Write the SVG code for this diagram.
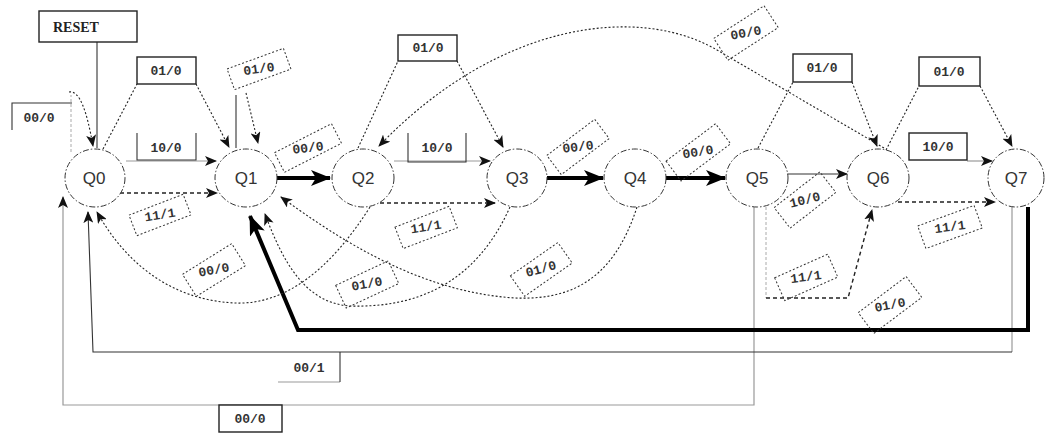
<svg xmlns="http://www.w3.org/2000/svg" width="1045" height="433" viewBox="0 0 1045 433">
  <defs>
    <marker id="arr" markerUnits="userSpaceOnUse" viewBox="0 0 12 10" markerWidth="12" markerHeight="10" refX="11" refY="5" orient="auto">
      <path d="M0,0 L12,5 L0,10 L3,5 z" fill="#111"/>
    </marker>
    <marker id="arrBig" markerUnits="userSpaceOnUse" viewBox="0 0 20 16" markerWidth="20" markerHeight="16" refX="19" refY="8" orient="auto">
      <path d="M0,0 L20,8 L0,16 L5,8 z" fill="#000"/>
    </marker>
  </defs>
  <style>
    .state ellipse { fill: #fff; stroke: #333; stroke-width: 1; stroke-dasharray: 6 2 1.5 2; }
    .state text { font-family: "Liberation Sans", Arial, sans-serif; font-size: 17px; fill: #333; text-anchor: middle; }
    .dot { fill: none; stroke: #222; stroke-width: 1.1; stroke-dasharray: 2 2; }
    .dash { fill: none; stroke: #222; stroke-width: 1.4; stroke-dasharray: 4 3; }
    .solid { fill: none; stroke: #333; stroke-width: 1.1; }
    .grey { fill: none; stroke: #999; stroke-width: 1.2; }
    .lightdot { fill: none; stroke: #aaa; stroke-width: 1; stroke-dasharray: 3 2; }
    .thick { fill: none; stroke: #000; stroke-width: 4; }
    .box { fill: #fff; stroke: #222; stroke-width: 1.4; }
    .rbox { fill: none; stroke: #333; stroke-width: 1; stroke-dasharray: 2 2; }
    .lbl { font-family: "Liberation Mono", "Courier New", monospace; font-size: 13px; font-weight: bold; fill: #333; text-anchor: middle; }
    .reset { font-family: "Liberation Serif", "Times New Roman", serif; font-size: 14px; font-weight: bold; fill: #222; }
  </style>

  <!-- transitions -->
  <g id="connectors">
    <!-- reset input -->
    <path class="solid" d="M97,42 L97,148"/>
    <!-- Q0 self loop -->
    <path class="lightdot" d="M71,152 L71,95"/>
    <path class="dot" d="M69,92 C80,90 87,112 93,146" marker-end="url(#arr)"/>
    <!-- Q0 -> Q1 -->
    <path class="dot" d="M103,149 L137,84"/>
    <path class="dot" d="M196,84 L229,147" marker-end="url(#arr)"/>
    <path class="grey" d="M126,161 L216,161" marker-end="url(#arr)"/>
    <path class="dash" d="M120,193 L217,193" marker-end="url(#arr)"/>
    <!-- Q1 self loop -->
    <path class="solid" d="M236,148 L236,95"/>
    <path class="dot" d="M246,93 L258,143" marker-end="url(#arr)"/>
    <!-- Q1 -> Q2 -->
    <path class="thick" d="M277,178 L330,178" marker-end="url(#arrBig)"/>
    <!-- Q2 -> Q3 -->
    <path class="dot" d="M358,148 L398,61"/>
    <path class="dot" d="M457,61 L503,147" marker-end="url(#arr)"/>
    <path class="grey" d="M394,161 L490,161" marker-end="url(#arr)"/>
    <path class="dash" d="M380,203 L495,203" marker-end="url(#arr)"/>
    <!-- Q3 -> Q4, Q4 -> Q5 -->
    <path class="thick" d="M547,178 L603,178" marker-end="url(#arrBig)"/>
    <path class="thick" d="M666,178 L725,178" marker-end="url(#arrBig)"/>
    <!-- Q5 -> Q6 -->
    <path class="solid" d="M787,174 L847,174" marker-end="url(#arr)"/>
    <path class="dot" d="M758,148 L793,82"/>
    <path class="dot" d="M852,82 L877,146" marker-end="url(#arr)"/>
    <path class="lightdot" d="M766,207 L766,298"/>
    <path class="dash" d="M766,298 L848,298 L872,210" marker-end="url(#arr)"/>
    <!-- Q6 -> Q7 -->
    <path class="dot" d="M886,150 L919,86"/>
    <path class="dot" d="M980,86 L1012,146" marker-end="url(#arr)"/>
    <path class="grey" d="M967,161 L992,161" marker-end="url(#arr)"/>
    <path class="dash" d="M898,202 L995,202" marker-end="url(#arr)"/>
    <!-- Q5 -> Q0 -->
    <path class="grey" d="M754,207 L754,405 L63,405 L63,197" marker-end="url(#arr)"/>
    <!-- Q7 -> Q0 -->
    <path class="grey" d="M1012,207 L1012,352"/>
    <path class="solid" d="M1012,352 L93,352 L88,212" marker-end="url(#arr)"/>
    <!-- Q7 -> Q1 -->
    <path class="thick" d="M1028,207 L1028,330 L298,330 L250,216" marker-end="url(#arrBig)"/>
    <!-- returns along the bottom -->
    <path class="dot" d="M370,207 C330,270 285,305 235,303 C170,300 125,262 97,212" marker-end="url(#arr)"/>
    <path class="dot" d="M510,207 C475,285 415,308 350,306 C305,303 283,262 265,214" marker-end="url(#arr)"/>
    <path class="dot" d="M637,207 C612,285 565,300 515,298 C420,292 340,240 281,197" marker-end="url(#arr)"/>
    <!-- Q6 -> Q2 arc -->
    <path class="dot" d="M884,148 L717,50 C640,5 500,20 379,146" marker-end="url(#arr)"/>
  </g>

  <!-- transition labels -->
  <g id="labels">
    <rect class="box" x="39" y="11" width="98" height="31"/>
    <text class="reset" x="53" y="32">RESET</text>

    <path class="solid" d="M12,130 L12,103 L72,103"/>
    <text class="lbl" x="39" y="122">00/0</text>

    <rect class="box" x="137" y="57" width="59" height="27"/>
    <text class="lbl" x="166" y="75">01/0</text>

    <path class="solid" d="M137,133 L137,160 L196,160 L196,133"/>
    <text class="lbl" x="166" y="152">10/0</text>

    <rect class="box" x="398" y="35" width="59" height="26"/>
    <text class="lbl" x="428" y="52">01/0</text>

    <path class="solid" d="M408,133 L408,162 L466,162 L466,133"/>
    <text class="lbl" x="437" y="152">10/0</text>

    <rect class="box" x="793" y="54" width="59" height="28"/>
    <text class="lbl" x="822" y="72">01/0</text>

    <rect class="box" x="919" y="57" width="61" height="29"/>
    <text class="lbl" x="949" y="76">01/0</text>

    <rect class="box" x="909" y="133" width="58" height="27"/>
    <text class="lbl" x="938" y="151">10/0</text>

    <path class="grey" d="M278,382 L340,382"/>
    <path class="solid" d="M340,352 L340,382"/>
    <text class="lbl" x="309" y="372">00/1</text>

    <rect class="box" x="219" y="405" width="63" height="27"/>
    <text class="lbl" x="250" y="423">00/0</text>

    <g transform="translate(160,215) rotate(-21)">
      <rect class="rbox" x="-29" y="-11" width="58" height="22"/>
      <text class="lbl" x="0" y="4" transform="rotate(12)">11/1</text>
    </g>
    <g transform="translate(259,69) rotate(-20)">
      <rect class="rbox" x="-30" y="-11" width="60" height="22"/>
      <text class="lbl" x="0" y="4" transform="rotate(12)">01/0</text>
    </g>
    <g transform="translate(308,148) rotate(-27)">
      <rect class="rbox" x="-32" y="-11" width="64" height="22"/>
      <text class="lbl" x="0" y="4" transform="rotate(20)">00/0</text>
    </g>
    <g transform="translate(426,227) rotate(-21)">
      <rect class="rbox" x="-29" y="-11" width="58" height="23"/>
      <text class="lbl" x="0" y="4" transform="rotate(12)">11/1</text>
    </g>
    <g transform="translate(578,147) rotate(-37)">
      <rect class="rbox" x="-30" y="-12" width="60" height="24"/>
      <text class="lbl" x="0" y="4" transform="rotate(30)">00/0</text>
    </g>
    <g transform="translate(698,152) rotate(-37)">
      <rect class="rbox" x="-31" y="-12" width="62" height="25"/>
      <text class="lbl" x="0" y="4" transform="rotate(28)">00/0</text>
    </g>
    <g transform="translate(805,200) rotate(-38)">
      <rect class="rbox" x="-29" y="-13" width="58" height="26"/>
      <text class="lbl" x="0" y="4" transform="rotate(24)">10/0</text>
    </g>
    <g transform="translate(950,227) rotate(-20)">
      <rect class="rbox" x="-30" y="-12" width="60" height="24"/>
      <text class="lbl" x="0" y="4" transform="rotate(12)">11/1</text>
    </g>
    <g transform="translate(806,277) rotate(-24)">
      <rect class="rbox" x="-29" y="-12" width="58" height="25"/>
      <text class="lbl" x="0" y="4" transform="rotate(16)">11/1</text>
    </g>
    <g transform="translate(890,305) rotate(-37)">
      <rect class="rbox" x="-30" y="-13" width="60" height="26"/>
      <text class="lbl" x="0" y="4" transform="rotate(26)">01/0</text>
    </g>
    <g transform="translate(214,270) rotate(-32)">
      <rect class="rbox" x="-29" y="-13" width="58" height="26"/>
      <text class="lbl" x="0" y="4" transform="rotate(22)">00/0</text>
    </g>
    <g transform="translate(367,284) rotate(-25)">
      <rect class="rbox" x="-29" y="-12" width="58" height="25"/>
      <text class="lbl" x="0" y="4" transform="rotate(15)">01/0</text>
    </g>
    <g transform="translate(541,269) rotate(-35)">
      <rect class="rbox" x="-29" y="-12" width="58" height="25"/>
      <text class="lbl" x="0" y="4" transform="rotate(20)">01/0</text>
    </g>
    <g transform="translate(746,33) rotate(-33)">
      <rect class="rbox" x="-30" y="-13" width="60" height="26"/>
      <text class="lbl" x="0" y="4" transform="rotate(23)">00/0</text>
    </g>
  </g>

  <!-- states -->
  <g id="Q0" class="state"><ellipse cx="95" cy="178" rx="30" ry="29"/><text x="94" y="184">Q0</text></g>
  <g id="Q1" class="state"><ellipse cx="246" cy="178" rx="31" ry="29"/><text x="246" y="184">Q1</text></g>
  <g id="Q2" class="state"><ellipse cx="363" cy="178" rx="31" ry="29"/><text x="363" y="184">Q2</text></g>
  <g id="Q3" class="state"><ellipse cx="517" cy="178" rx="30" ry="29"/><text x="517" y="184">Q3</text></g>
  <g id="Q4" class="state"><ellipse cx="635" cy="178" rx="31" ry="29"/><text x="635" y="184">Q4</text></g>
  <g id="Q5" class="state"><ellipse cx="757" cy="178" rx="31" ry="29"/><text x="757" y="184">Q5</text></g>
  <g id="Q6" class="state"><ellipse cx="878" cy="178" rx="31" ry="29"/><text x="878" y="184">Q6</text></g>
  <g id="Q7" class="state"><ellipse cx="1016" cy="178" rx="28" ry="29"/><text x="1016" y="184">Q7</text></g>
</svg>
